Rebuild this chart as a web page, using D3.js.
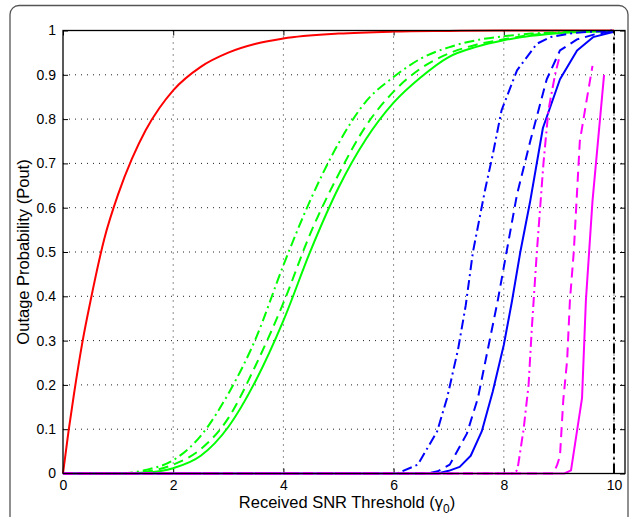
<!DOCTYPE html>
<html><head><meta charset="utf-8">
<script src="https://cdn.jsdelivr.net/npm/d3@7"></script>
<style>
html,body{margin:0;padding:0;background:#fff;}
svg{display:block;}
text{font-family:"Liberation Sans",Arial,Helvetica,sans-serif;fill:#000;}
</style></head>
<body>
<script>
// ---- data ----
const xTicks = [0, 2, 4, 6, 8, 10];
const yTicks = [0, 0.1, 0.2, 0.3, 0.4, 0.5, 0.6, 0.7, 0.8, 0.9, 1];
const yTickLabels = ["0", "0.1", "0.2", "0.3", "0.4", "0.5", "0.6", "0.7", "0.8", "0.9", "1"];

const redX = [0, 0.1, 0.2, 0.35, 0.5, 0.75, 1, 1.25, 1.5, 1.75, 2, 2.5, 3, 3.5, 4, 5, 6, 7, 8, 9, 10];
const redY = [0, 0.095, 0.18, 0.295, 0.39, 0.53, 0.63, 0.71, 0.775, 0.825, 0.865, 0.918, 0.95, 0.97, 0.982, 0.993, 0.9975, 0.999, 1, 1, 1];

const greenX = [0, 1, 1.5, 2, 2.5, 3, 3.5, 4, 4.5, 5, 5.5, 6, 6.5, 7, 7.5, 8, 8.5, 9, 9.5, 10];
const greenSolidY   = [0, 0, 0.002, 0.012, 0.04, 0.105, 0.21, 0.345, 0.505, 0.645, 0.755, 0.837, 0.895, 0.94, 0.963, 0.978, 0.988, 0.994, 0.997, 0.999];
const greenDashedY  = [0, 0, 0.004, 0.02, 0.055, 0.125, 0.245, 0.385, 0.545, 0.675, 0.785, 0.862, 0.915, 0.948, 0.968, 0.98, 0.99, 0.995, 0.998, 0.999];
const greenDashDotY = [0, 0, 0.008, 0.03, 0.085, 0.18, 0.305, 0.47, 0.62, 0.745, 0.84, 0.895, 0.937, 0.962, 0.978, 0.987, 0.993, 0.996, 0.998, 0.999];

const blueSolidX = [0, 6.8, 7.0, 7.2, 7.4, 7.6, 7.8, 8.0, 8.15, 8.3, 8.48, 8.71, 9.02, 9.33, 9.62, 10];
const blueSolidY = [0, 0, 0.006, 0.015, 0.04, 0.095, 0.185, 0.29, 0.39, 0.5, 0.615, 0.78, 0.89, 0.955, 0.985, 0.997];
const blueDashedX = [0, 6.6, 6.8, 7.02, 7.33, 7.53, 7.71, 7.89, 8.05, 8.24, 8.48, 8.78, 9.02, 9.33, 9.7, 10];
const blueDashedY = [0, 0, 0.005, 0.02, 0.09, 0.17, 0.28, 0.39, 0.5, 0.63, 0.75, 0.89, 0.955, 0.98, 0.993, 0.998];
const blueDashDotX = [0, 6.06, 6.44, 6.79, 6.97, 7.17, 7.31, 7.44, 7.66, 7.8, 7.96, 8.24, 8.6, 8.84, 9.3, 10];
const blueDashDotY = [0, 0, 0.02, 0.095, 0.17, 0.28, 0.38, 0.5, 0.64, 0.72, 0.82, 0.91, 0.97, 0.985, 0.995, 1];

const magSolidX = [0, 9.1, 9.22, 9.42, 9.49, 9.61, 9.82];
const magSolidY = [0, 0, 0.007, 0.17, 0.39, 0.615, 0.9];
const magDashedX = [0, 8.9, 8.97, 9.02, 9.08, 9.15, 9.2, 9.27, 9.38, 9.5, 9.61];
const magDashedY = [0, 0, 0.02, 0.04, 0.166, 0.256, 0.39, 0.5, 0.75, 0.84, 0.92];
const magDashDotX = [0, 8.2, 8.25, 8.36, 8.45, 8.51, 8.6, 8.72, 8.81, 8.93, 9.0];
const magDashDotY = [0, 0, 0.01, 0.1, 0.2, 0.33, 0.5, 0.7, 0.82, 0.9, 0.935];

const limitX = [10, 10];
const limitY = [0, 1];

// ---- chart ----
const W = 632, H = 517;
const svg = d3.select("body").append("svg").attr("width", W).attr("height", H);

// outer rounded frame
svg.append("rect").attr("x", 10).attr("y", 5.5).attr("width", 618).attr("height", 520)
  .attr("rx", 9).attr("ry", 9).attr("fill", "none").attr("stroke", "#555").attr("stroke-width", 1.3);

const L = 63, R = 625, T = 30.5, B = 473.5;
const x = d3.scaleLinear().domain([0, 10.2]).range([L, R]);
const y = d3.scaleLinear().domain([0, 1]).range([B, T]);

// grid
const grid = svg.append("g");
grid.selectAll("line.gx").data(xTicks.filter(d => d > 0)).join("line")
  .attr("x1", d => x(d)).attr("x2", d => x(d)).attr("y1", T).attr("y2", B)
  .attr("stroke", "#222").attr("stroke-width", 1).attr("stroke-dasharray", "1,5");
grid.selectAll("line.gy").data(yTicks.filter(d => d > 0 && d < 1)).join("line")
  .attr("x1", L).attr("x2", R).attr("y1", d => y(d)).attr("y2", d => y(d))
  .attr("stroke", "#222").attr("stroke-width", 1).attr("stroke-dasharray", "1,5");

// axes (inward ticks on all sides)
const fmtY = d => yTickLabels[yTicks.indexOf(d)];
const axB = d3.axisBottom(x).tickValues(xTicks).tickSize(-5).tickPadding(7).tickFormat(d3.format("d"));
const axT = d3.axisTop(x).tickValues(xTicks).tickSize(-5).tickFormat("");
const axL = d3.axisLeft(y).tickValues(yTicks).tickSize(-5).tickPadding(7).tickFormat(fmtY);
const axR = d3.axisRight(y).tickValues(yTicks).tickSize(-5).tickFormat("");

function style(g) {
  g.select(".domain").remove();
  g.selectAll(".tick line").attr("stroke", "#000").attr("stroke-width", 1);
  g.selectAll("text").attr("font-size", 14).attr("fill", "#000")
    .style("font-family", '"Liberation Sans",Arial,sans-serif');
}
svg.append("g").attr("transform", `translate(0,${B})`).call(axB).call(style);
svg.append("g").attr("transform", `translate(0,${T})`).call(axT).call(style);
svg.append("g").attr("transform", `translate(${L},0)`).call(axL).call(style);
svg.append("g").attr("transform", `translate(${R},0)`).call(axR).call(style);

// curves
const smooth = d3.line().x(d => x(d[0])).y(d => y(d[1])).curve(d3.curveMonotoneX);
const lin = d3.line().x(d => x(d[0])).y(d => y(d[1]));
const series = [
  {xs: redX, ys: redY, c: "#ff0000", dash: null, ln: smooth},
  {xs: greenX, ys: greenSolidY, c: "#00ff00", dash: null, ln: smooth},
  {xs: greenX, ys: greenDashedY, c: "#00ff00", dash: "10,6", ln: smooth},
  {xs: greenX, ys: greenDashDotY, c: "#00ff00", dash: "10,4,2,4", ln: smooth},
  {xs: blueSolidX, ys: blueSolidY, c: "#0000ff", dash: null, ln: lin},
  {xs: blueDashedX, ys: blueDashedY, c: "#0000ff", dash: "10,6", ln: lin},
  {xs: blueDashDotX, ys: blueDashDotY, c: "#0000ff", dash: "10,4,2,4", ln: lin},
  {xs: magSolidX, ys: magSolidY, c: "#ff00ff", dash: null, ln: lin},
  {xs: magDashedX, ys: magDashedY, c: "#ff00ff", dash: "10,6", ln: lin},
  {xs: magDashDotX, ys: magDashDotY, c: "#ff00ff", dash: "10,4,2,4", ln: lin},
  {xs: limitX, ys: limitY, c: "#000000", dash: "10,4,2,4", ln: lin}
];
series.forEach(s => {
  svg.append("path").datum(s.xs.map((v, i) => [v, s.ys[i]]))
    .attr("d", s.ln).attr("fill", "none").attr("stroke", s.c).attr("stroke-width", 2)
    .attr("stroke-dasharray", s.dash).attr("stroke-linejoin", "round");
});

// plot box
svg.append("rect").attr("x", L).attr("y", T).attr("width", R - L).attr("height", B - T)
  .attr("fill", "none").attr("stroke", "#000").attr("stroke-width", 1.3);

// axis labels
const xl = svg.append("text").attr("x", (L + R) / 2 + 3).attr("y", 508).attr("text-anchor", "middle").attr("font-size", 16.5);
xl.append("tspan").text("Received SNR Threshold (");
xl.append("tspan").text("γ");
xl.append("tspan").attr("font-size", 12).attr("dy", 5).text("0");
xl.append("tspan").attr("dy", -5).text(")");

svg.append("text").attr("transform", `translate(29,${(T + B) / 2}) rotate(-90)`)
  .attr("text-anchor", "middle").attr("font-size", 16.5).text("Outage Probability (Pout)");
</script>
</body></html>
